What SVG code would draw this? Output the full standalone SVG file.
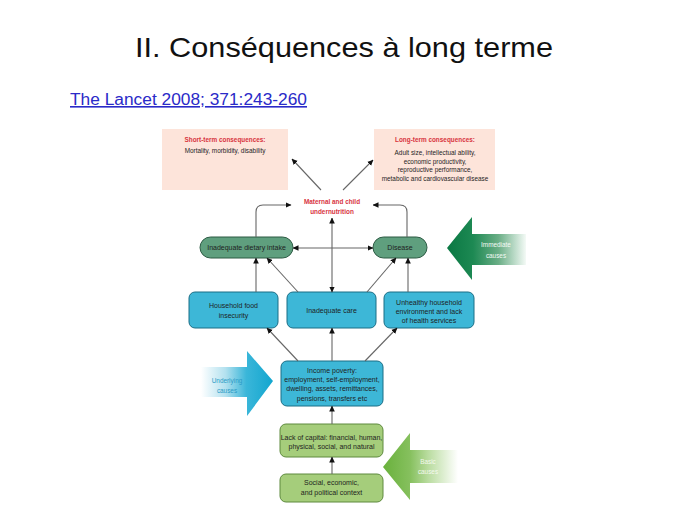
<svg xmlns="http://www.w3.org/2000/svg" width="689" height="517" viewBox="0 0 689 517">
<defs>
<style>
.t{font-family:"Liberation Sans",Arial,sans-serif;font-size:7px;fill:#1e1e1e;text-anchor:middle}
.s{font-size:6.4px}
.r{fill:#d8343e;font-weight:bold}
.pink{fill:#fde4da}
.dg{fill:#5f9f7e;stroke:#2c5a43;stroke-width:1}
.bl{fill:#3db7d7;stroke:#1b6e86;stroke-width:1}
.lg{fill:#a5cd7b;stroke:#5e8a3e;stroke-width:1}
.c{fill:none;stroke:#666;stroke-width:1.1}
</style>
<marker id="ah" viewBox="0 0 6 6" refX="5.5" refY="3" markerWidth="6" markerHeight="6" markerUnits="userSpaceOnUse" orient="auto-start-reverse">
<path d="M0,0.2 L6,3 L0,5.8 Z" fill="#111"/>
</marker>
<linearGradient id="gImm" gradientUnits="userSpaceOnUse" x1="447" y1="0" x2="526" y2="0">
<stop offset="0" stop-color="#0a7843"/>
<stop offset="0.33" stop-color="#1d8953"/>
<stop offset="0.65" stop-color="#6aae86"/>
<stop offset="1" stop-color="#f4faf6"/>
</linearGradient>
<linearGradient id="gUnd" gradientUnits="userSpaceOnUse" x1="273" y1="0" x2="201" y2="0">
<stop offset="0" stop-color="#12a6cf"/>
<stop offset="0.37" stop-color="#3ab6d9"/>
<stop offset="0.66" stop-color="#b3e1ef"/>
<stop offset="1" stop-color="#ffffff"/>
</linearGradient>
<linearGradient id="gBas" gradientUnits="userSpaceOnUse" x1="383" y1="0" x2="458" y2="0">
<stop offset="0" stop-color="#69b13c"/>
<stop offset="0.36" stop-color="#86c05e"/>
<stop offset="0.6" stop-color="#b9dc9f"/>
<stop offset="1" stop-color="#ffffff"/>
</linearGradient>
</defs>
<rect width="689" height="517" fill="#ffffff"/>
<text x="344" y="57" font-family="'Liberation Sans',Arial,sans-serif" font-size="28" fill="#111" text-anchor="middle" textLength="418" lengthAdjust="spacingAndGlyphs">II. Conséquences à long terme</text>
<text x="70" y="105" font-family="'Liberation Sans',Arial,sans-serif" font-size="16" fill="#2a2ac8" text-decoration="underline" textLength="237" lengthAdjust="spacingAndGlyphs">The Lancet 2008; 371:243-260</text>

<g id="big-arrows">
<polygon points="447,248 472,217 472,234 526,234 526,265 472,265 472,280" fill="url(#gImm)"/>
<text class="t s" x="496" y="247" style="fill:#f2faf5">Immediate</text>
<text class="t s" x="496" y="258" style="fill:#f2faf5">causes</text>
<polygon points="273,381 247,351 247,367 201,367 201,397 247,397 247,416" fill="url(#gUnd)"/>
<text class="t s" x="227" y="383" style="fill:#2a9bc6">Underlying</text>
<text class="t s" x="227" y="393" style="fill:#2a9bc6">causes</text>
<polygon points="383,467 410,433 410,450 458,450 458,483 410,483 410,500" fill="url(#gBas)"/>
<text class="t s" x="428" y="464" style="fill:#f4f9ee">Basic</text>
<text class="t s" x="428" y="474" style="fill:#f4f9ee">causes</text>
</g>

<g id="short-term">
<rect class="pink" x="162" y="129" width="126" height="61"/>
<text class="t s r" x="225" y="141.5">Short-term consequences:</text>
<text class="t s" x="225" y="153">Mortality, morbidity, disability</text>
</g>
<g id="long-term">
<rect class="pink" x="374" y="129" width="121" height="61"/>
<text class="t s r" x="435" y="141.5">Long-term consequences:</text>
<text class="t s" x="435" y="154.5">Adult size, intellectual ability,</text>
<text class="t s" x="435" y="163.5">economic productivity,</text>
<text class="t s" x="435" y="172">reproductive performance,</text>
<text class="t s" x="435" y="181">metabolic and cardiovascular disease</text>
</g>
<g id="maternal">
<text class="t s r" x="332" y="203.5">Maternal and child</text>
<text class="t s r" x="332" y="213.5">undernutrition</text>
</g>
<g id="dietary">
<rect class="dg" x="200" y="237" width="93" height="21" rx="10.5"/>
<text class="t" x="246.5" y="250">Inadequate dietary intake</text>
</g>
<g id="disease">
<rect class="dg" x="373" y="237" width="54" height="21" rx="10.5"/>
<text class="t" x="400" y="250">Disease</text>
</g>
<g id="food">
<rect class="bl" x="189" y="292" width="89" height="36" rx="6"/>
<text class="t" x="233.5" y="307.5">Household food</text>
<text class="t" x="233.5" y="317.5">insecurity</text>
</g>
<g id="care">
<rect class="bl" x="287" y="292" width="89" height="36" rx="6"/>
<text class="t" x="331.5" y="313">Inadequate care</text>
</g>
<g id="unhealthy">
<rect class="bl" x="384" y="292" width="90" height="36" rx="6"/>
<text class="t" x="429" y="304.5">Unhealthy household</text>
<text class="t" x="429" y="313.5">environment and lack</text>
<text class="t" x="429" y="323">of health services</text>
</g>
<g id="income">
<rect class="bl" x="281" y="361" width="102" height="45" rx="6"/>
<text class="t" x="332" y="372.5">Income poverty:</text>
<text class="t" x="332" y="381.5">employment, self-employment,</text>
<text class="t" x="332" y="391">dwelling, assets, remittances,</text>
<text class="t" x="332" y="400.5">pensions, transfers etc</text>
</g>
<g id="capital">
<rect class="lg" x="280" y="424" width="103" height="33" rx="6"/>
<text class="t" x="331.5" y="439.5">Lack of capital: financial, human,</text>
<text class="t" x="331.5" y="448.5">physical, social, and natural</text>
</g>
<g id="context">
<rect class="lg" x="280" y="474" width="103" height="28" rx="6"/>
<text class="t" x="331.5" y="484.5">Social, economic,</text>
<text class="t" x="331.5" y="494.5">and political context</text>
</g>

<g id="connectors">
<path class="c" d="M321,190 L292,159" marker-end="url(#ah)"/>
<path class="c" d="M343,190 L373,160" marker-end="url(#ah)"/>
<path class="c" d="M256,237 V212 Q256,205 263,205 H291" marker-end="url(#ah)"/>
<path class="c" d="M407,237 V212 Q407,205 400,205 H373" marker-end="url(#ah)"/>
<path class="c" d="M293,248 H373" marker-start="url(#ah)" marker-end="url(#ah)"/>
<path class="c" d="M332,292 V218" marker-start="url(#ah)" marker-end="url(#ah)"/>
<path class="c" d="M256,292 V258" marker-end="url(#ah)"/>
<path class="c" d="M298,292 L267,258" marker-end="url(#ah)"/>
<path class="c" d="M367,292 L396,258" marker-end="url(#ah)"/>
<path class="c" d="M408,292 V258" marker-end="url(#ah)"/>
<path class="c" d="M298,361 L267,328" marker-end="url(#ah)"/>
<path class="c" d="M332,361 V328" marker-end="url(#ah)"/>
<path class="c" d="M365,361 L397,328" marker-end="url(#ah)"/>
<path class="c" d="M332,424 V406" marker-end="url(#ah)"/>
<path class="c" d="M332,474 V457" marker-end="url(#ah)"/>
</g>
</svg>
